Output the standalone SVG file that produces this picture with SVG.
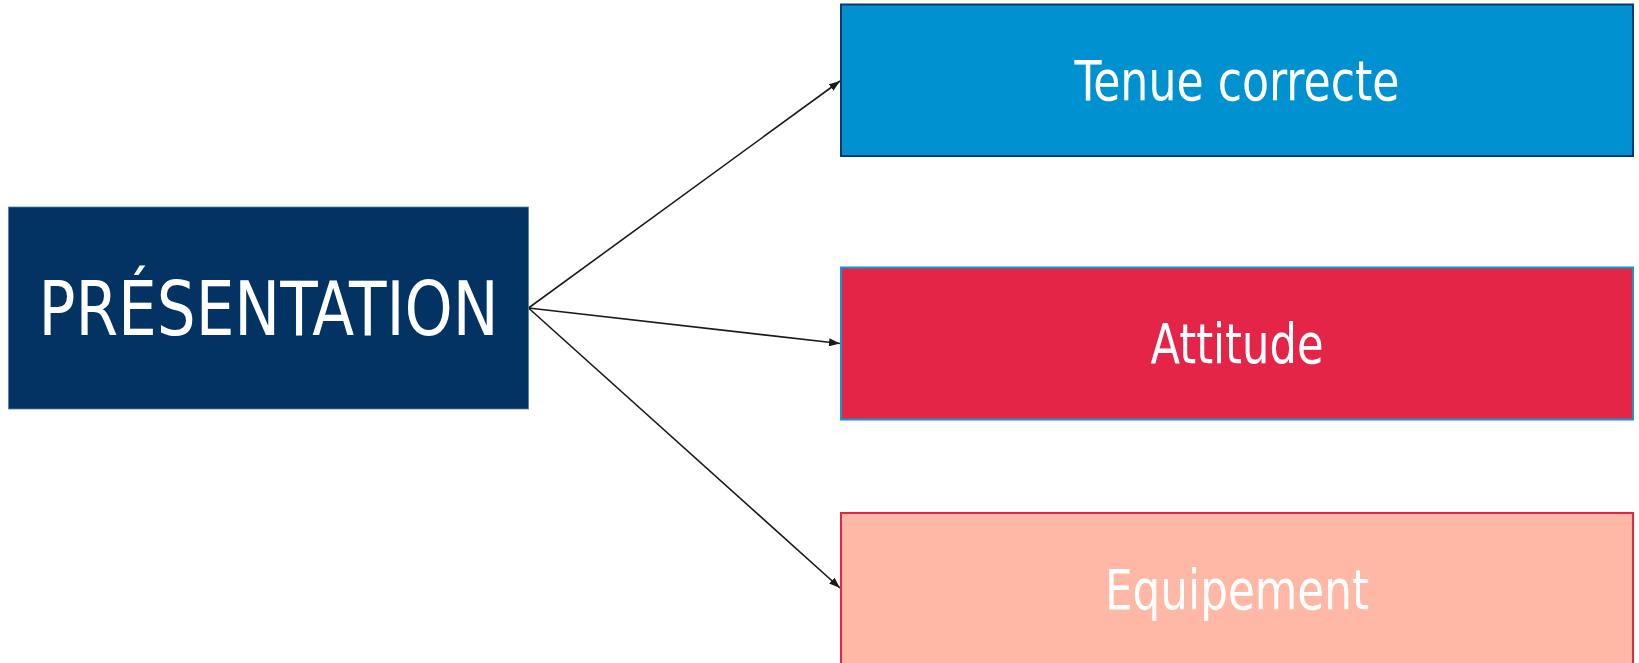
<svg xmlns="http://www.w3.org/2000/svg" width="1639" height="663" viewBox="0 0 1639 663">
<style>
.lbl{font-family:"DejaVu Sans Condensed","DejaVu Sans","Liberation Sans",sans-serif;fill:#ffffff;text-anchor:middle}
.edge{stroke:#1a1a1a;stroke-width:1.6;fill:none}
</style>
<defs>
<marker id="arr" viewBox="0 0 10 10" refX="10" refY="5" markerWidth="11" markerHeight="8" markerUnits="userSpaceOnUse" orient="auto" preserveAspectRatio="none">
<path d="M0,0 L10,5 L0,10 z" fill="#1a1a1a"/>
</marker>
</defs>
<rect width="1639" height="663" fill="#ffffff"/>
<g id="connectors">
<line class="edge" x1="528.5" y1="308" x2="840" y2="81" marker-end="url(#arr)"/>
<line class="edge" x1="528.5" y1="308" x2="840" y2="343.5" marker-end="url(#arr)"/>
<line class="edge" x1="528.5" y1="308" x2="840" y2="588" marker-end="url(#arr)"/>
</g>
<g id="presentation">
<rect x="8.5" y="207" width="520" height="202" fill="#033363" stroke="#5a7ca3" stroke-width="0.8"/>
<text class="lbl" x="268.5" y="335" font-size="74" textLength="460" lengthAdjust="spacingAndGlyphs">PRÉSENTATION</text>
</g>
<g id="tenue">
<rect x="841" y="4.5" width="792" height="151.5" fill="#0092d0" stroke="#033a78" stroke-width="2"/>
<text class="lbl" x="1237" y="100" font-size="55" textLength="325" lengthAdjust="spacingAndGlyphs">Tenue correcte</text>
</g>
<g id="attitude">
<rect x="841" y="267.5" width="792" height="152" fill="#e52548" stroke="#0f98d4" stroke-width="2"/>
<text class="lbl" x="1237" y="363" font-size="55" textLength="173" lengthAdjust="spacingAndGlyphs">Attitude</text>
</g>
<g id="equipement">
<rect x="841" y="513" width="792" height="153" fill="#ffb8a5" stroke="#e52548" stroke-width="2"/>
<text class="lbl" x="1237" y="608.5" font-size="55" textLength="264" lengthAdjust="spacingAndGlyphs">Equipement</text>
</g>
</svg>
